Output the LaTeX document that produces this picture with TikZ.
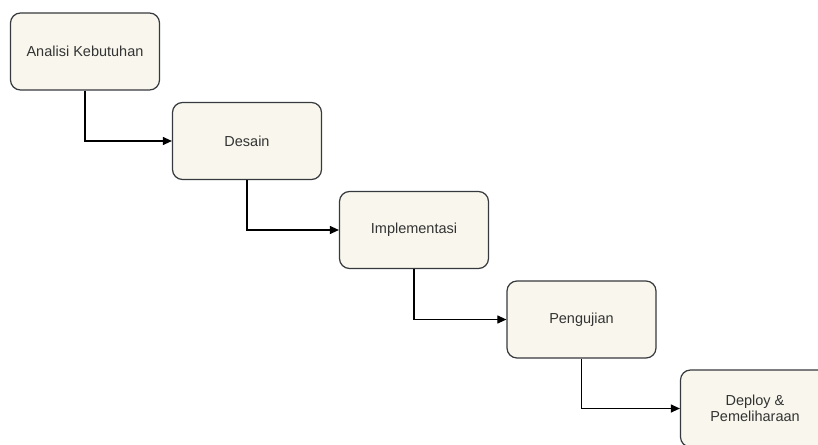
\documentclass[tikz,border=0pt]{standalone}
\usepackage{fontspec}
\setmainfont{Liberation Sans}
\usetikzlibrary{arrows.meta}
\definecolor{boxfill}{HTML}{F9F7ED}
\definecolor{boxline}{HTML}{36393D}
\definecolor{boxtext}{HTML}{333333}
\begin{document}
\begin{tikzpicture}[x=1pt,y=-1pt,
  stage/.style={draw=boxline,fill=boxfill,line width=1.2pt,rounded corners=10pt,
    minimum width=149pt,minimum height=77pt,inner sep=0pt,align=center,
    text=boxtext,font=\fontsize{14.5}{16}\selectfont},
  flow/.style={draw=black,line width=1.1pt,-{Triangle[length=9pt,width=8pt]}}]
  \useasboundingbox[fill=white] (0,0) rectangle (818,444);
  \node[stage] (s1) at (85,51.5) {Analisi Kebutuhan};
  \node[stage] (s2) at (247,141) {Desain};
  \node[stage] (s3) at (414,230) {Implementasi};
  \node[stage] (s4) at (581.5,319.5) {Pengujian};
  \node[stage] (s5) at (755,408.5) {Deploy \&\\Pemeliharaan};
  \draw[flow] (s1.south) |- (s2.west);
  \draw[flow] (s2.south) |- (s3.west);
  \draw[flow] (s3.south) |- (s4.west);
  \draw[flow] (s4.south) |- (s5.west);
\end{tikzpicture}
\end{document}
